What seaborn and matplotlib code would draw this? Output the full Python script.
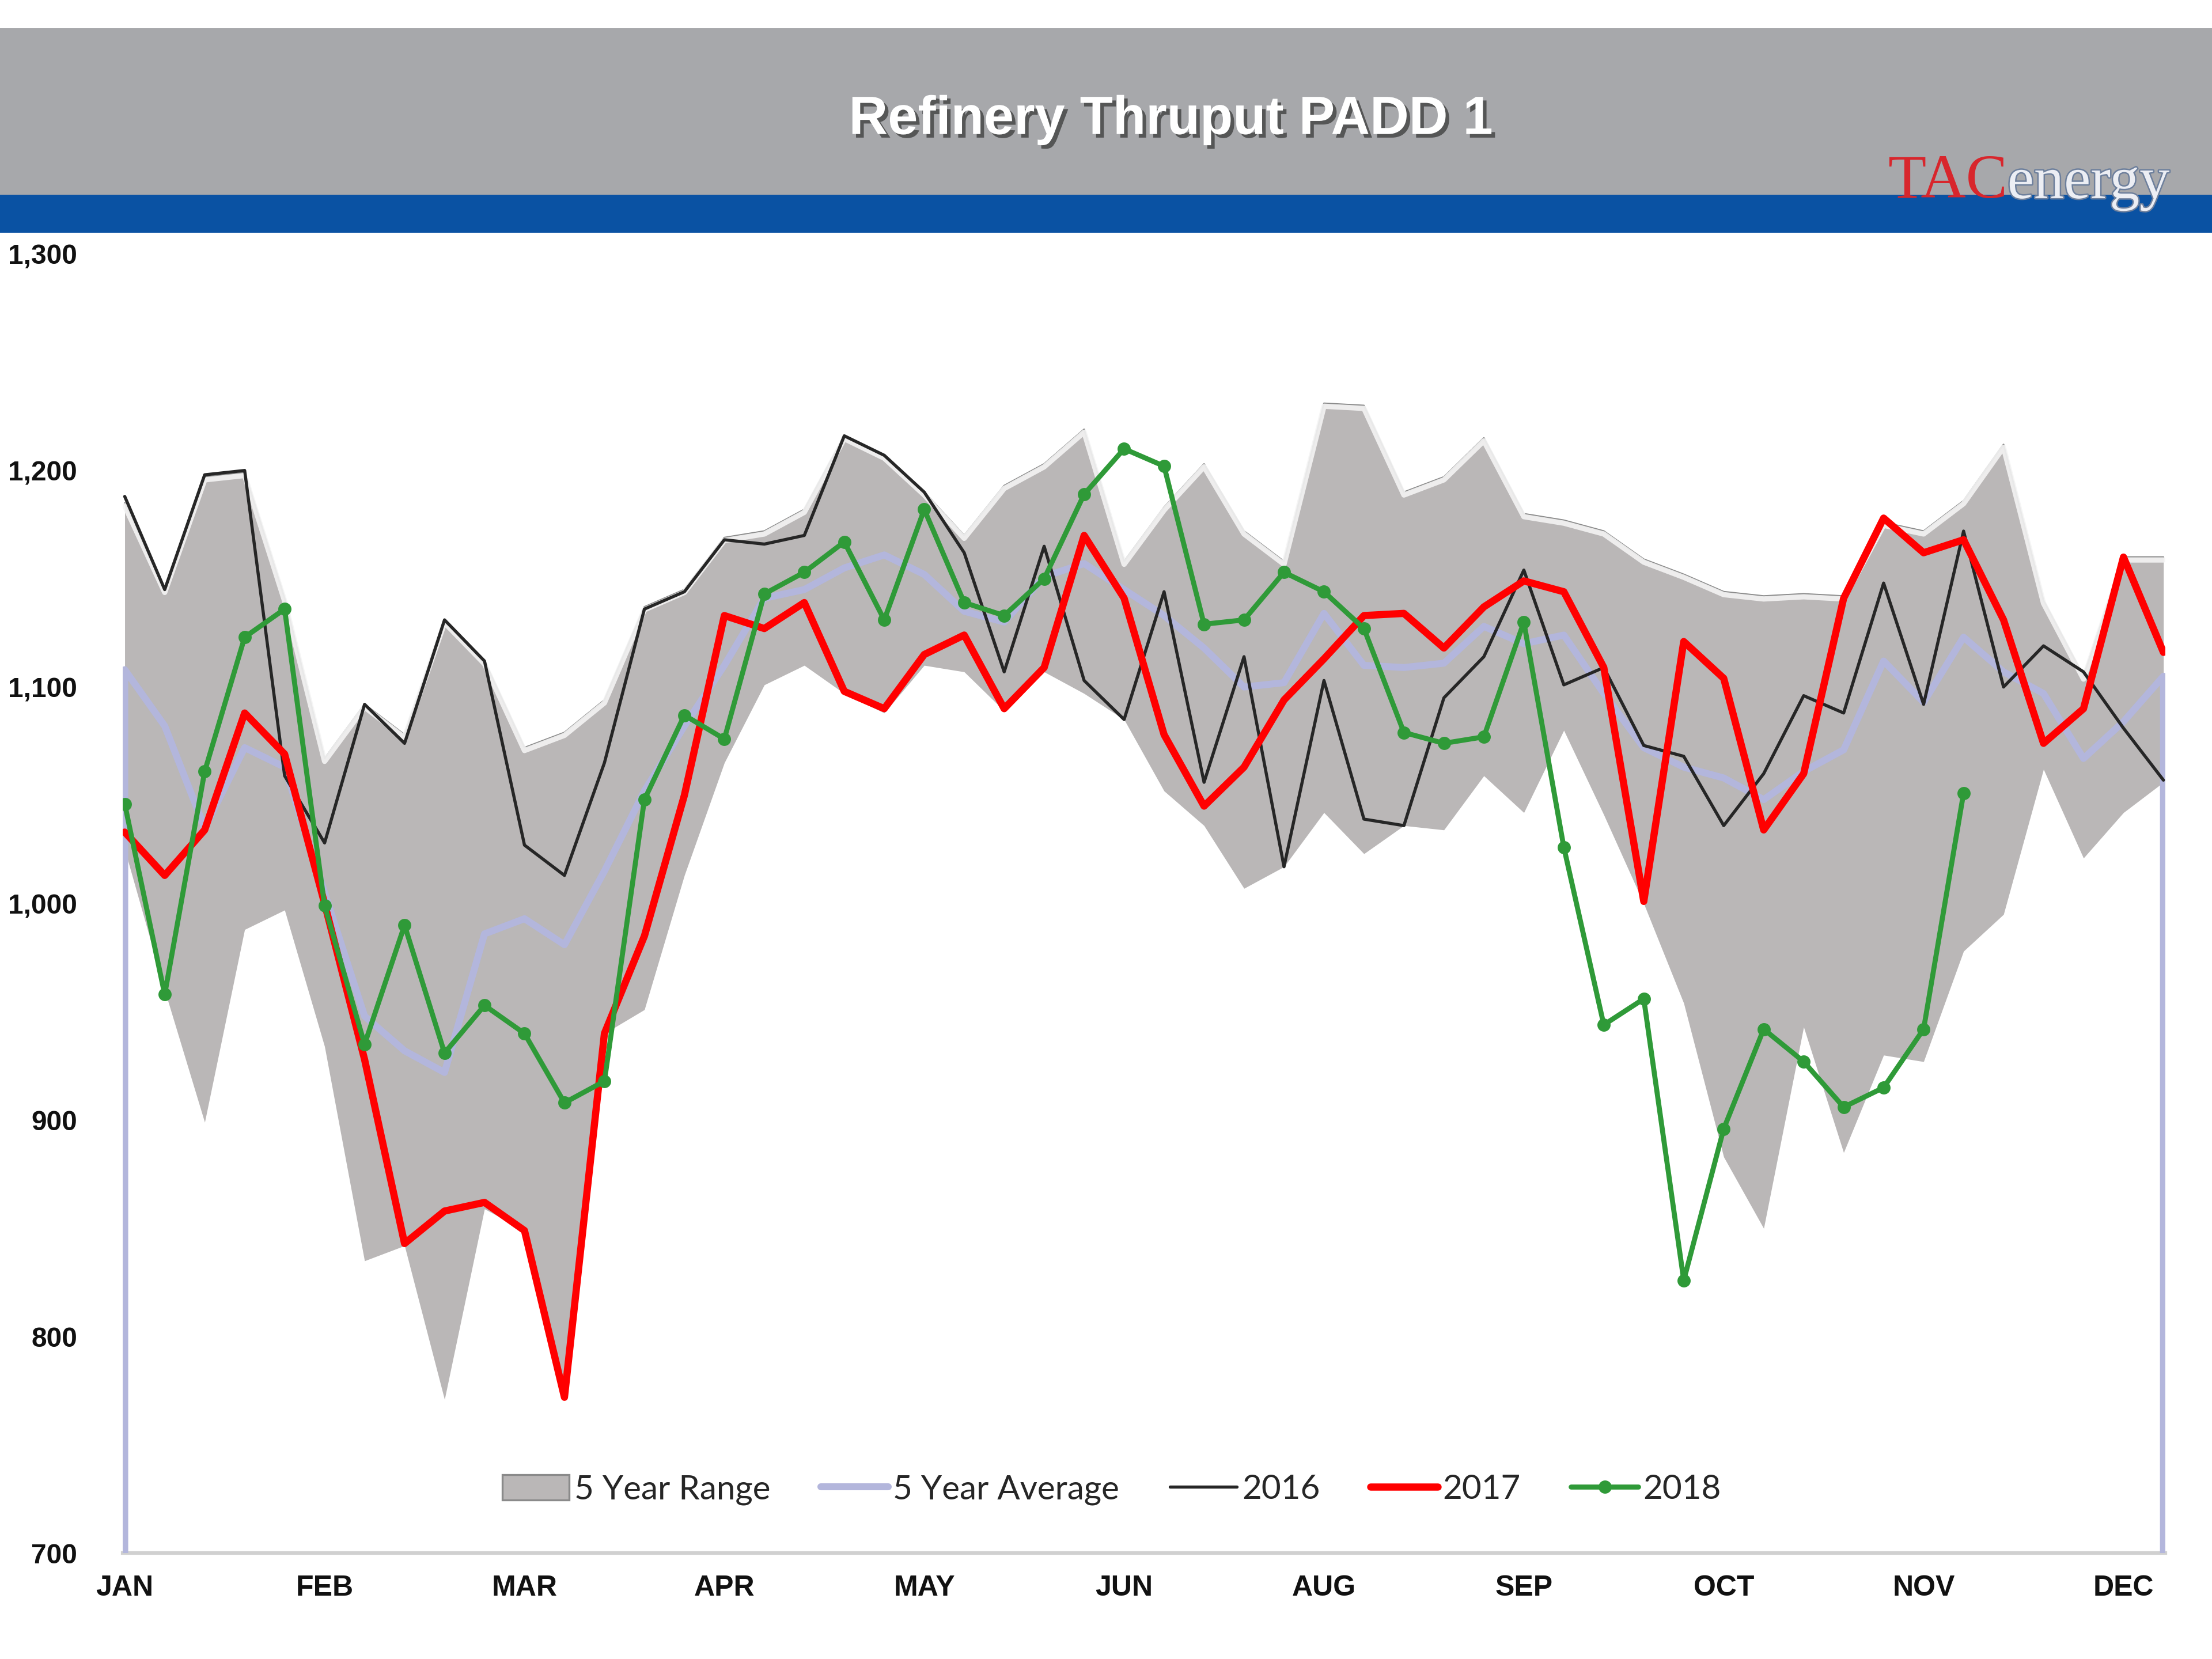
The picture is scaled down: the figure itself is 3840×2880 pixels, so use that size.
import numpy as np
import seaborn as sns
import matplotlib.pyplot as plt
import matplotlib.patheffects as pe
import matplotlib.transforms as mtransforms
from matplotlib.patches import Rectangle, Patch
from matplotlib.lines import Line2D

# weekly refinery thruput, PADD 1 (kb/d), 52 weeks
month_labels = ["JAN", "FEB", "MAR", "APR", "MAY", "JUN", "AUG", "SEP", "OCT", "NOV", "DEC"]

range_high = [1185, 1145, 1197, 1199, 1141, 1067, 1092, 1078, 1131, 1112,
              1072, 1079, 1094, 1137, 1145, 1169, 1172, 1182, 1216, 1207,
              1190, 1170, 1193, 1203, 1219, 1158, 1183, 1203, 1172, 1158,
              1231, 1230, 1190, 1197, 1215, 1180, 1177, 1172, 1159, 1152,
              1144, 1142, 1143, 1142, 1176, 1172, 1186, 1212, 1140, 1105,
              1160, 1160]
range_low = [1025, 960, 899, 988, 997, 934, 835, 842, 771, 859,
             849, 772, 940, 951, 1013, 1065, 1101, 1110, 1097, 1088,
             1110, 1107, 1089, 1107, 1097, 1085, 1052, 1036, 1007, 1017,
             1042, 1023, 1036, 1034, 1059, 1042, 1080, 1041, 1000, 954,
             883, 850, 943, 885, 930, 927, 978, 995, 1062, 1021,
             1042, 1056]
avg_5yr = [1108, 1082, 1035, 1072, 1063, 1005, 948, 932, 922, 986,
           993, 981, 1015, 1052, 1082, 1110, 1141, 1145, 1155, 1161,
           1152, 1135, 1130, 1151, 1157, 1145, 1133, 1118, 1100, 1102,
           1134, 1110, 1109, 1111, 1128, 1120, 1124, 1097, 1072, 1063,
           1058, 1048, 1061, 1071, 1112, 1093, 1123, 1107, 1097, 1067,
           1084, 1105]
y2016 = [1188, 1145, 1198, 1200, 1059, 1028, 1092, 1074, 1131, 1112,
         1027, 1013, 1065, 1136, 1144, 1168, 1166, 1170, 1216, 1207,
         1190, 1162, 1107, 1165, 1103, 1085, 1144, 1056, 1114, 1017,
         1103, 1039, 1036, 1095, 1114, 1154, 1101, 1109, 1073, 1068,
         1036, 1060, 1096, 1088, 1148, 1092, 1172, 1100, 1119, 1107,
         1081, 1057]
y2017 = [1033, 1013, 1034, 1088, 1069, 1000, 928, 843, 858, 862,
         849, 772, 940, 985, 1050, 1133, 1127, 1139, 1098, 1090,
         1115, 1124, 1090, 1109, 1170, 1141, 1078, 1045, 1063, 1094,
         1113, 1133, 1134, 1118, 1137, 1149, 1144, 1109, 1001, 1121,
         1104, 1034, 1060, 1141, 1178, 1162, 1168, 1131, 1074, 1090,
         1160, 1116]
y2018 = [1046, 958, 1061, 1123, 1136, 999, 935, 990, 931, 953,
         940, 908, 918, 1048, 1087, 1076, 1143, 1153, 1167, 1131,
         1182, 1139, 1133, 1150, 1189, 1210, 1202, 1129, 1131, 1153,
         1144, 1127, 1079, 1074, 1077, 1130, 1026, 944, 956, 826,
         896, 942, 927, 906, 915, 942, 1051]

weeks = np.arange(len(avg_5yr))
y_min, y_max = 700, 1300

sns.set_theme(style="white")
plt.rcParams["font.family"] = ["Liberation Sans", "DejaVu Sans"]

c_range = "#bab7b7"
c_avg = "#b3b6dc"
c_2016 = "#262626"
c_2017 = "#ff0000"
c_2018 = "#2f9a38"

fig = plt.figure(figsize=(12.8, 9.6), dpi=300)

# header bands (drawn under everything else)
fig.patches.append(Rectangle((0, 1 - 138 / 1176), 1, 118 / 1176, transform=fig.transFigure,
                             facecolor="#a7a8ab", edgecolor="none", zorder=-2))
fig.patches.append(Rectangle((0, 1 - 165 / 1176), 1, 27 / 1176, transform=fig.transFigure,
                             facecolor="#0a52a3", edgecolor="none", zorder=-2))

fig.text(830 / 1568, 1 - 85 / 1176, "Refinery Thruput PADD 1", ha="center", va="center",
         color="white", fontsize=22.5, fontweight="bold",
         path_effects=[pe.withSimplePatchShadow(offset=(1.5, -1.5), shadow_rgbFace="#333333", alpha=0.7)])

logo = fig.text(1338 / 1568, 1 - 140 / 1176, "TAC", ha="left", va="baseline",
                color="#d8262c", fontsize=26, family="Liberation Serif")

ax = fig.add_axes([87 / 1568, 1 - 1101 / 1176, (1535 - 87) / 1568, (1101 - 180) / 1176])

ax.annotate("energy", xy=(1, 0), xycoords=logo, ha="left", va="bottom",
            color="#eceef4", fontsize=25, family="Liberation Serif", annotation_clip=False,
            path_effects=[pe.withStroke(linewidth=1.2, foreground="#6d7f9c")])

# 5-year range band with a light bevel on top
ax.fill_between(weeks, range_low, range_high, color=c_range, lw=0, zorder=1)
ax.plot(weeks, range_high, color="#8a8a8a", lw=0.7, zorder=2)
glow = mtransforms.offset_copy(ax.transData, fig=fig, x=0, y=-1.2, units="points")
ax.plot(weeks, range_high, color="#f4f4f4", lw=2.2, alpha=0.9, transform=glow, zorder=2)

# 5-year average drawn like an area outline (drops to the axis at both ends)
avg_x = np.r_[weeks[0], weeks, weeks[-1]]
avg_y = np.r_[y_min, avg_5yr, y_min]
sns.lineplot(x=avg_x, y=avg_y, sort=False, estimator=None, ax=ax,
             color=c_avg, linewidth=2.9, zorder=3)
sns.lineplot(x=weeks, y=y2016, ax=ax, color=c_2016, linewidth=1.3, zorder=4)
sns.lineplot(x=weeks, y=y2017, ax=ax, color=c_2017, linewidth=3.0, zorder=5)
sns.lineplot(x=weeks[:len(y2018)], y=y2018, ax=ax, color=c_2018, linewidth=2.1,
             marker="o", markersize=5.5, markeredgewidth=0, zorder=6)

ax.set_xlim(-0.05, 51.05)
ax.set_ylim(y_min, y_max)
ax.set_xticks(weeks[::5][:len(month_labels)])
ax.set_xticklabels(month_labels)
ax.set_yticks(np.arange(y_min, y_max + 1, 100))
ax.set_yticklabels([f"{v:,}" for v in range(y_min, y_max + 1, 100)])
ax.tick_params(axis="y", length=0, pad=19, labelsize=11.5)
ax.tick_params(axis="x", length=0, pad=9, labelsize=12)
for lab in ax.get_xticklabels() + ax.get_yticklabels():
    lab.set_fontweight("bold")
    lab.set_color("#111111")
ax.set_xlabel("")
ax.set_ylabel("")
for side in ["top", "right", "left"]:
    ax.spines[side].set_visible(False)
ax.spines["bottom"].set_color("#d0d0d0")
ax.spines["bottom"].set_linewidth(1.5)
ax.grid(False)
ax.set_facecolor("none")

handles = [
    Patch(facecolor=c_range, edgecolor="#8a8a8a", linewidth=0.8),
    Line2D([], [], color=c_avg, lw=2.9),
    Line2D([], [], color=c_2016, lw=1.3),
    Line2D([], [], color=c_2017, lw=3.0),
    Line2D([], [], color=c_2018, lw=2.1, marker="o", markersize=5.5, markeredgewidth=0),
]
labels = ["5 Year Range", "5 Year Average", "2016", "2017", "2018"]
ax.legend(handles, labels, loc="center", bbox_to_anchor=((788 - 87) / 1448, (1101 - 1056) / 921),
          ncol=5, frameon=False, prop={"family": "Lato", "size": 14},
          handlelength=2.0, handletextpad=0.15, columnspacing=1.5, handleheight=0.8)

fig.savefig("out.png", dpi=300, facecolor="white")
